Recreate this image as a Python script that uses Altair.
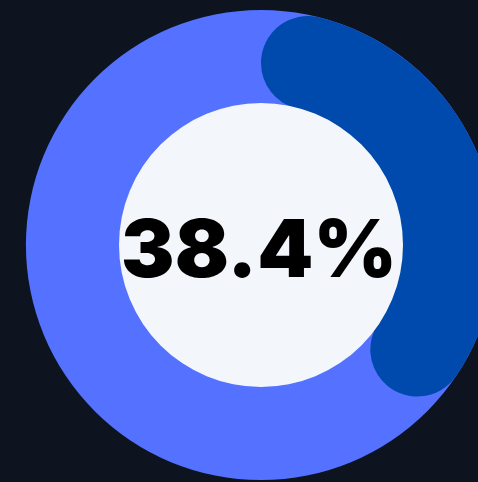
import altair as alt
import pandas as pd

value = [38.4]
total = [100]
label = ["38.4%"]

cx, cy = 261, 245

bg = pd.DataFrame({"v": total})
fg = pd.DataFrame({"v": value})
tx = pd.DataFrame({"t": label})

theta_scale = alt.Scale(domain=[0, 100], range=[0, 6.283185307])

track = alt.Chart(bg).mark_arc(radius=235, radius2=0, color="#5472ff").encode(
    theta=alt.Theta("v:Q", scale=theta_scale),
    x=alt.value(cx), y=alt.value(cy),
)
progress = alt.Chart(fg).mark_arc(radius=235, radius2=141, cornerRadius=47, color="#014aad").encode(
    theta=alt.Theta("v:Q", scale=theta_scale),
    x=alt.value(cx), y=alt.value(cy),
)
hole = alt.Chart(bg).mark_arc(radius=142, radius2=0, color="#f3f6fb").encode(
    theta=alt.Theta("v:Q", scale=theta_scale),
    x=alt.value(cx), y=alt.value(cy),
)
text = alt.Chart(tx).mark_text(font="Inter", fontWeight=900, fontSize=80, color="#000000",
                               align="center", baseline="middle").encode(
    text="t:N", x=alt.value(259), y=alt.value(253),
)

chart = alt.layer(track, progress, hole, text).properties(
    width=478, height=482, background="#0d1420", padding=0,
    autosize=alt.AutoSizeParams(type="none"),
).configure_view(stroke=None)

chart.save("out.html", embed_options={"renderer": "svg", "actions": False})
